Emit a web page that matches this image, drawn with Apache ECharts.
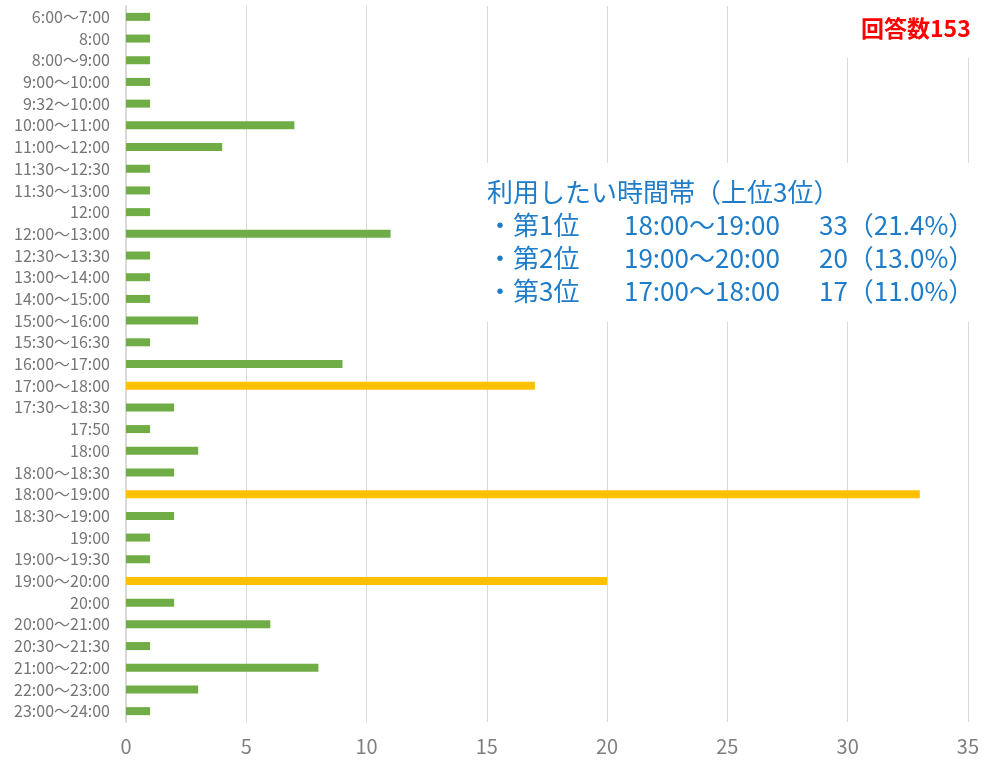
<!DOCTYPE html>
<html><head><meta charset="utf-8">
<script src="https://cdn.jsdelivr.net/npm/echarts@6/dist/echarts.min.js"></script>
<style>html,body{margin:0;padding:0;background:#fff}#c{width:982px;height:760px}</style>
</head><body><div id="c"></div>
<script>
const categories = ["6:00～7:00","8:00","8:00～9:00","9:00～10:00","9:32～10:00","10:00～11:00","11:00～12:00","11:30～12:30","11:30～13:00","12:00","12:00～13:00","12:30～13:30","13:00～14:00","14:00～15:00","15:00～16:00","15:30～16:30","16:00～17:00","17:00～18:00","17:30～18:30","17:50","18:00","18:00～18:30","18:00～19:00","18:30～19:00","19:00","19:00～19:30","19:00～20:00","20:00","20:00～21:00","20:30～21:30","21:00～22:00","22:00～23:00","23:00～24:00"];
const counts = [1,1,1,1,1,7,4,1,1,1,11,1,1,1,3,1,9,17,2,1,3,2,33,2,1,1,20,2,6,1,8,3,1];
const top3 = ["18:00～19:00","19:00～20:00","17:00～18:00"];
const xTicks = {min:0, max:35, interval:5};
const titleText = "回答数153";
const boxTitle = "利用したい時間帯（上位3位）";
const rankLabels = ["・第1位","・第2位","・第3位"];
const rankTimes = ["18:00～19:00","19:00～20:00","17:00～18:00"];
const rankValues = ["33（21.4%）","20（13.0%）","17（11.0%）"];

const FONT = '"Noto Sans CJK JP", "Noto Sans", sans-serif';
const GREEN = '#70AD47', YELLOW = '#FFC000', BLUE = '#1E7CC8';

const chart = echarts.init(document.getElementById('c'), null, {renderer:'canvas'});
const graphics = [
  {type:'rect', shape:{x:790,y:0,width:192,height:58}, style:{fill:'#fff'}, z:10},
  {type:'text', x:861, y:28, style:{text:titleText, font:'bold 23px '+FONT, fill:'#FF0000', textVerticalAlign:'middle'}, z:11},
  {type:'rect', shape:{x:478,y:163,width:504,height:159}, style:{fill:'#fff'}, z:10},
  {type:'text', x:487, y:192, style:{text:boxTitle, font:'26px '+FONT, fill:BLUE, textVerticalAlign:'middle'}, z:11}
];
rankLabels.forEach((r,i)=>{
  const y = 225 + i*33.3;
  graphics.push({type:'text', x:487, y:y, style:{text:r, font:'26px '+FONT, fill:BLUE, textVerticalAlign:'middle'}, z:11});
  graphics.push({type:'text', x:624, y:y, style:{text:rankTimes[i], font:'26px '+FONT, fill:BLUE, textVerticalAlign:'middle'}, z:11});
  graphics.push({type:'text', x:819, y:y, style:{text:rankValues[i], font:'26px '+FONT, fill:BLUE, textVerticalAlign:'middle'}, z:11});
});

chart.setOption({
  animation:false,
  grid:{left:126, right:11, top:6, bottom:38, containLabel:false},
  xAxis:{type:'value', min:xTicks.min, max:xTicks.max, interval:xTicks.interval,
    axisLine:{show:false}, axisTick:{show:false},
    splitLine:{lineStyle:{color:'#d9d9d9', width:1}},
    axisLabel:{fontSize:20, color:'#7f7f7f', margin:14, fontFamily:FONT}},
  yAxis:{type:'category', data:categories, inverse:true,
    axisLine:{show:true, lineStyle:{color:'#d9d9d9', width:2}}, axisTick:{show:false},
    axisLabel:{fontSize:16, color:'#757575', margin:16, fontFamily:FONT, interval:0}},
  series:[{type:'bar', barWidth:8,
    data:counts.map((v,i)=>({value:v, itemStyle:{color: top3.includes(categories[i]) ? YELLOW : GREEN}}))}],
  graphic:graphics
});
</script></body></html>
